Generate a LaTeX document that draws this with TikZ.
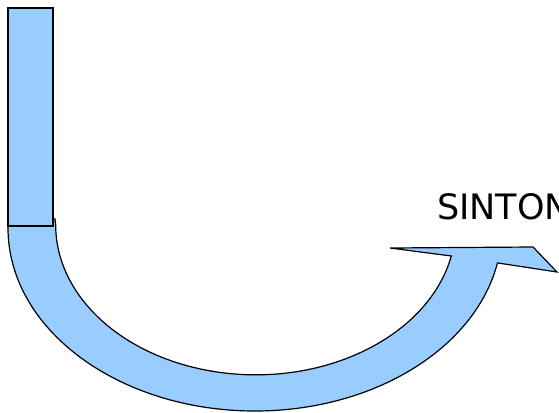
\documentclass[tikz,border=0pt]{standalone}
\usepackage{fontspec}
\setmainfont{DejaVu Sans}
\usepackage{tikz}
\usetikzlibrary{arrows.meta, positioning, calc}
\definecolor{pipeblue}{HTML}{99CCFF}
\tikzset{
  pipe/.style={draw=black, line width=1.2pt, fill=pipeblue, line join=miter},
  tag/.style={font=\fontsize{35}{40}\selectfont, inner sep=0pt, anchor=south west}
}

\begin{document}
\begin{tikzpicture}[x=1pt, y=-1pt]
\useasboundingbox (0,0) rectangle (559,412);
\begin{scope}
\clip (0,0) rectangle (559,412);
% Curved arrow
\draw[pipe] (8,219) -- (8,228)
  arc[start angle=180, end angle=11, x radius=247, y radius=183]
  -- (557,272) -- (533,247) -- (390,248) -- (451.3,256)
  arc[start angle=12, end angle=180, x radius=200, y radius=150]
  -- (55,219) -- cycle;
% Vertical bar
\draw[pipe] (8,8) rectangle (53,226);
% Label
\node[tag] (sintonia) at (437,220) {SINTONIA};
\end{scope}
\end{tikzpicture}
\end{document}
